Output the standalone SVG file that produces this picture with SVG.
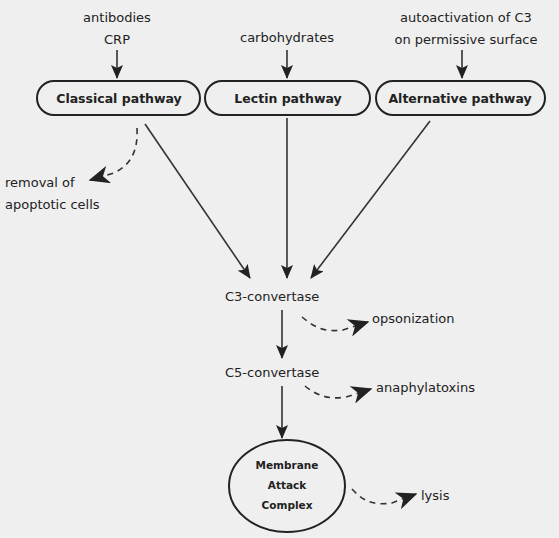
<svg xmlns="http://www.w3.org/2000/svg" width="559" height="538" viewBox="0 0 559 538">
<style>
text{font-family:"DejaVu Sans","Liberation Sans",sans-serif;fill:#222;font-size:13px}
.c{text-anchor:middle}
.b{font-weight:bold;font-size:12.5px}
.box{fill:none;stroke:#222;stroke-width:2}
.ln{fill:none;stroke:#333;stroke-width:1.6}
.ds{fill:none;stroke:#333;stroke-width:1.6;stroke-dasharray:6,5}
</style>
<defs>
<marker id="ah" viewBox="0 0 14 12" refX="13" refY="6" markerWidth="14" markerHeight="12" markerUnits="userSpaceOnUse" orient="auto">
<path d="M0,0 L14,6 L0,12 L3,6 z" fill="#222"/>
</marker>
<marker id="ah2" viewBox="0 0 14 12" refX="13" refY="6" markerWidth="24" markerHeight="18" markerUnits="userSpaceOnUse" orient="auto">
<path d="M0,0 L14,6 L0,12 L4,6 z" fill="#222"/>
</marker>
</defs>
<rect width="559" height="538" fill="#efefef"/>
<g id="inputs">
<text class="c" x="117" y="22">antibodies</text>
<text class="c" x="117" y="44">CRP</text>
<text class="c" x="287" y="42">carbohydrates</text>
<text class="c" x="466" y="22">autoactivation of C3</text>
<text class="c" x="466" y="44">on permissive surface</text>
</g>
<g id="classical">
<rect class="box" x="37" y="81" width="163" height="34" rx="17"/>
<text class="c b" x="119" y="103">Classical pathway</text>
</g>
<g id="lectin">
<rect class="box" x="205" y="81" width="165" height="34" rx="17"/>
<text class="c b" x="288" y="103">Lectin pathway</text>
</g>
<g id="alternative">
<rect class="box" x="376" y="81" width="169" height="34" rx="17"/>
<text class="c b" x="460" y="103">Alternative pathway</text>
</g>
<g id="removal">
<text x="5" y="187">removal of</text>
<text x="5" y="209">apoptotic cells</text>
</g>
<g id="c3">
<text x="225" y="301">C3-convertase</text>
</g>
<g id="c5">
<text x="225" y="377">C5-convertase</text>
</g>
<g id="opsonization"><text x="372" y="323">opsonization</text></g>
<g id="anaphylatoxins"><text x="376" y="392">anaphylatoxins</text></g>
<g id="mac">
<ellipse class="box" cx="287" cy="486" rx="58" ry="46" stroke-width="3"/>
<text class="c b" x="287" y="469" style="font-size:10.5px">Membrane</text>
<text class="c b" x="287" y="489" style="font-size:10.5px">Attack</text>
<text class="c b" x="287" y="509" style="font-size:10.5px">Complex</text>
</g>
<g id="lysis"><text x="421" y="500">lysis</text></g>
<g id="connectors">
<path class="ln" d="M117,50 L117,78" marker-end="url(#ah)"/>
<path class="ln" d="M287,50 L287,78" marker-end="url(#ah)"/>
<path class="ln" d="M462,50 L462,78" marker-end="url(#ah)"/>
<path class="ln" d="M145,124 L250,278" marker-end="url(#ah)"/>
<path class="ln" d="M287,118 L287,278" marker-end="url(#ah)"/>
<path class="ln" d="M430,121 L311,278" marker-end="url(#ah)"/>
<path class="ln" d="M282,310 L282,358" marker-end="url(#ah)"/>
<path class="ln" d="M282,386 L282,438" marker-end="url(#ah)"/>
<path class="ds" d="M137,128 C138,150 132,164 114,173 L90,180" stroke-dasharray="5,5" marker-end="url(#ah2)"/>
<path class="ds" d="M302,317 C312,325 322,333 343,330 L368,322" marker-end="url(#ah2)"/>
<path class="ds" d="M305,386 C316,395 328,400 346,397 L371,389" marker-end="url(#ah2)"/>
<path class="ds" d="M352,489 C362,500 372,506 392,503 L416,494" marker-end="url(#ah2)"/>
</g>
</svg>
